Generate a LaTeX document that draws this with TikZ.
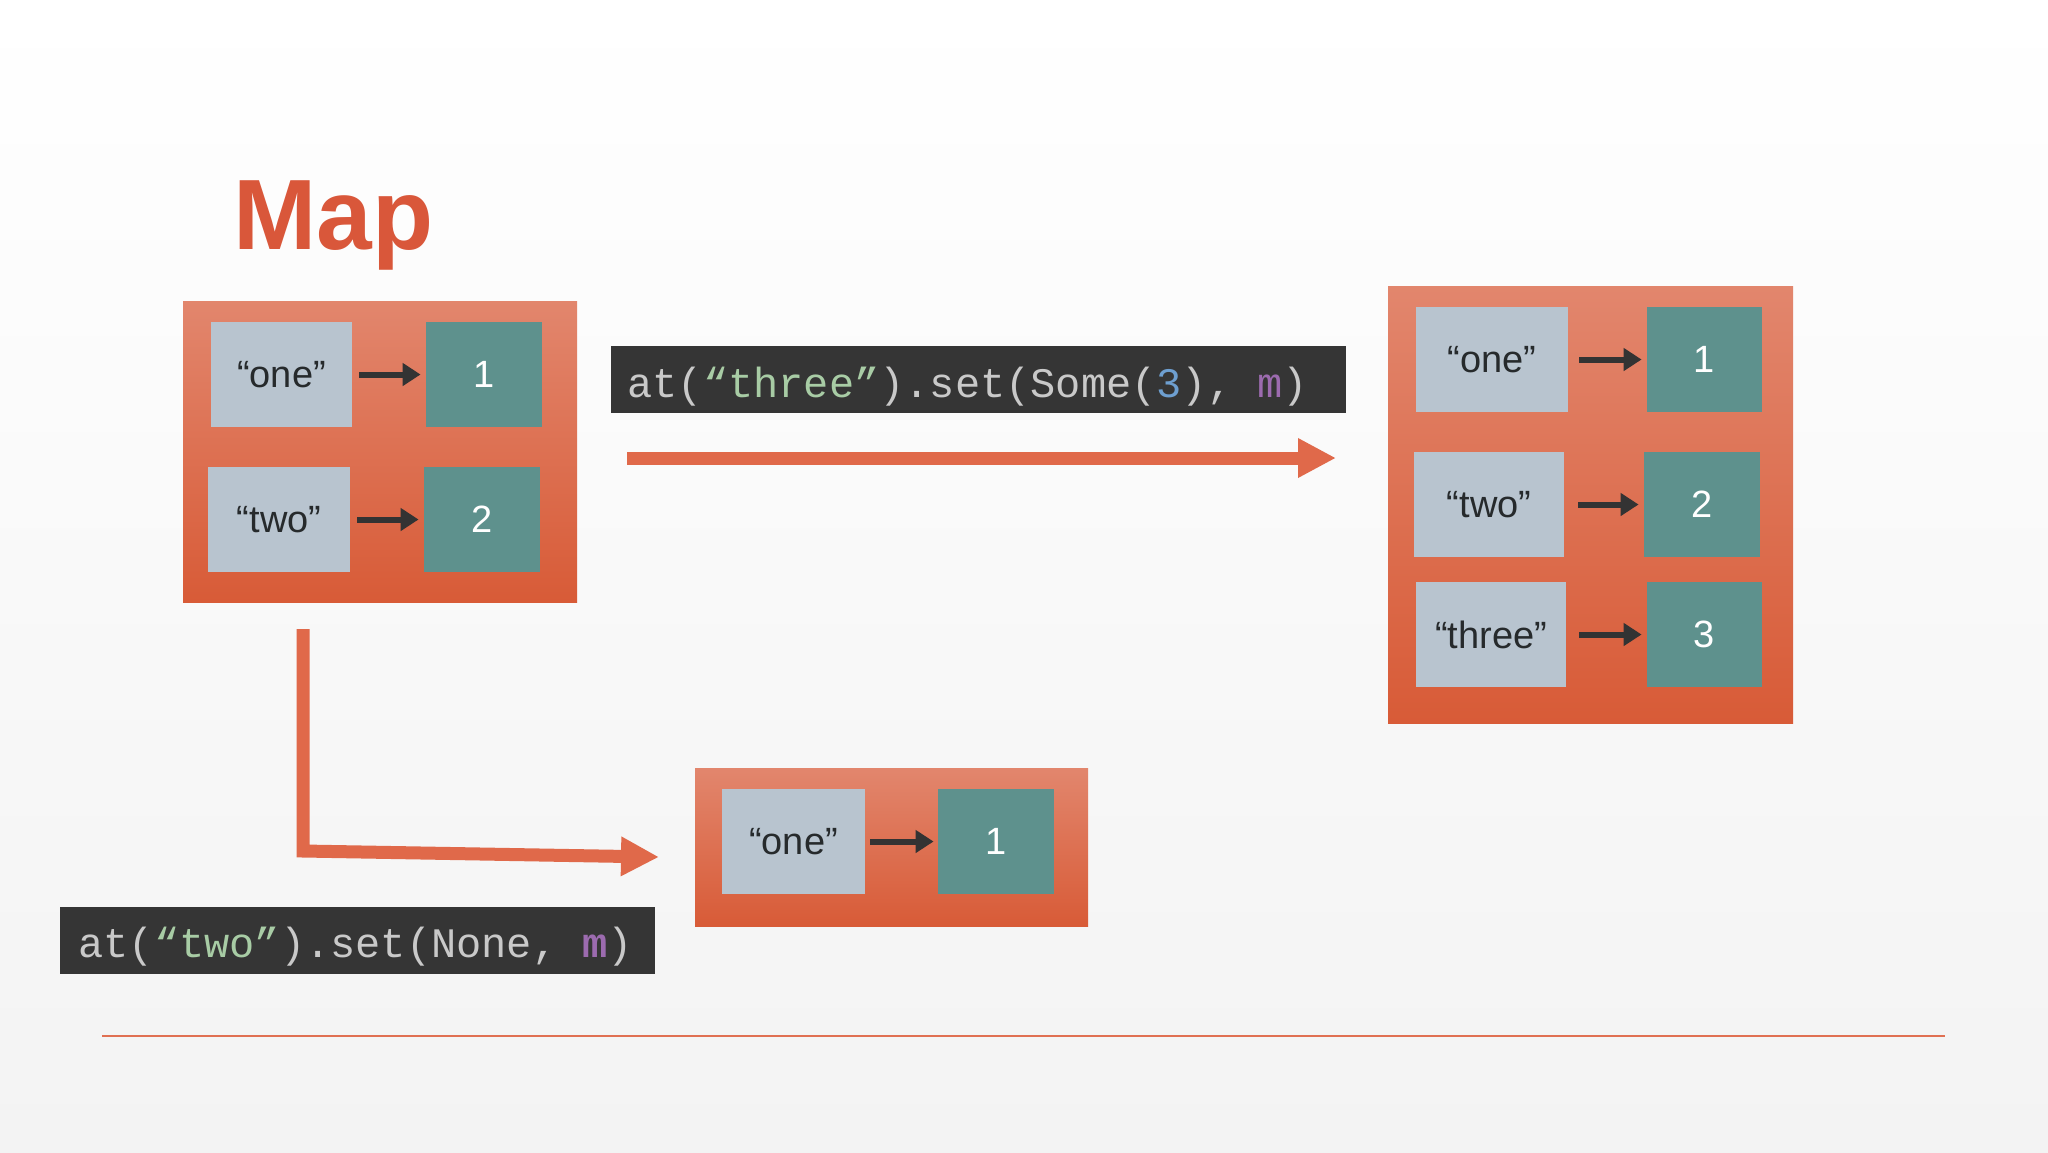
\documentclass[tikz,border=0pt]{standalone}
\usepackage{fontspec}
\setmainfont{Liberation Sans}
\newfontfamily\codefont{Liberation Mono}
\usetikzlibrary{arrows.meta}
\definecolor{bgbot}{HTML}{F3F3F3}
\definecolor{boxtop}{HTML}{E2866D}
\definecolor{boxbot}{HTML}{D85B37}
\definecolor{keyfill}{HTML}{B8C4CF}
\definecolor{valfill}{HTML}{5E918D}
\definecolor{keytext}{HTML}{262A2C}
\definecolor{darkarrow}{HTML}{333333}
\definecolor{orangearrow}{HTML}{E0694A}
\definecolor{titlecol}{HTML}{D9573A}
\definecolor{codebg}{HTML}{353535}
\definecolor{codegray}{HTML}{C9C9C9}
\definecolor{codegreen}{HTML}{A8CCA5}
\definecolor{codeblue}{HTML}{6E9FD0}
\definecolor{codepurple}{HTML}{9C6BAF}
\definecolor{linecol}{HTML}{E07052}
\tikzset{
  mapbox/.style={rectangle, top color=boxtop, bottom color=boxbot, draw=none, inner sep=0pt},
  keybox/.style={rectangle, fill=keyfill, minimum height=52.5pt, inner sep=0pt, text=keytext, font=\fontsize{19pt}{21pt}\selectfont},
  valbox/.style={rectangle, fill=valfill, minimum height=52.5pt, minimum width=58pt, inner sep=0pt, text=white, font=\fontsize{19pt}{21pt}\selectfont},
  kv/.style={-{Triangle[length=9pt,width=11pt]}, line width=3pt, draw=darkarrow},
  bigarrow/.style={-{Triangle[length=19pt,width=18.5pt]}, line width=6.5pt, draw=orangearrow, line join=miter},
  codebox/.style={rectangle, fill=codebg, draw=none, inner sep=0pt, minimum height=33.5pt},
  codetext/.style={anchor=base west, inner sep=0pt, text=codegray, font=\codefont\fontsize{21pt}{24pt}\selectfont}
}
\begin{document}
\begin{tikzpicture}[x=0.5pt,y=-0.5pt]
\useasboundingbox (0,0) rectangle (2048,1152);
\fill[top color=white, bottom color=bgbot] (0,0) rectangle (2048,1152);

% title
\node[anchor=base west, inner sep=0pt, text=titlecol, font=\bfseries\fontsize{50pt}{50pt}\selectfont] (title) at (233,249) {Map};

% left map
\node[mapbox, minimum width=197pt, minimum height=150.5pt] (mapA) at (380,451.5) {};
\node[keybox, minimum width=70.5pt] (a1k) at (281.5,374.5) {“one”};
\node[valbox] (a1v) at (484,374.5) {1};
\node[keybox, minimum width=71pt] (a2k) at (279,519.5) {“two”};
\node[valbox] (a2v) at (482,519.5) {2};
\draw[kv] ([xshift=3.5pt]a1k.east) -- ([xshift=-2.5pt]a1v.west);
\draw[kv] ([xshift=3.5pt]a2k.east) -- ([xshift=-2.5pt]a2v.west);

% right map
\node[mapbox, minimum width=202.5pt, minimum height=218.5pt] (mapB) at (1590.5,504.5) {};
\node[keybox, minimum width=76pt] (b1k) at (1492,359.5) {“one”};
\node[valbox, minimum width=57.5pt] (b1v) at (1704.5,359.5) {1};
\node[keybox, minimum width=75pt] (b2k) at (1489,504.5) {“two”};
\node[valbox] (b2v) at (1702,504.5) {2};
\node[keybox, minimum width=75pt] (b3k) at (1491,634.5) {“three”};
\node[valbox, minimum width=57.5pt] (b3v) at (1704.5,634.5) {3};
\draw[kv] ([xshift=5.5pt]b1k.east) -- ([xshift=-2.5pt]b1v.west);
\draw[kv] ([xshift=7pt]b2k.east) -- ([xshift=-2.5pt]b2v.west);
\draw[kv] ([xshift=6.5pt]b3k.east) -- ([xshift=-2.5pt]b3v.west);

% bottom map
\node[mapbox, minimum width=196.5pt, minimum height=79pt] (mapC) at (891.5,847) {};
\node[keybox, minimum width=71.5pt] (c1k) at (793.5,841.5) {“one”};
\node[valbox] (c1v) at (996,841.5) {1};
\draw[kv] ([xshift=2.5pt]c1k.east) -- ([xshift=-2pt]c1v.west);

% code boxes
\node[codebox, minimum width=367.5pt] (codeA) at (978.5,379.5) {};
\node[codetext] (codeAt) at (627,397) {at(\textcolor{codegreen}{“three”}).set(Some(\textcolor{codeblue}{3}), \textcolor{codepurple}{m})};
\node[codebox, minimum width=297.5pt] (codeB) at (357.5,940) {};
\node[codetext] (codeBt) at (78,957) {at(\textcolor{codegreen}{“two”}).set(None, \textcolor{codepurple}{\bfseries m})};

% big arrows
\coordinate (p1) at (627,458);
\coordinate (p2) at (1336,458);
\draw[bigarrow] (p1) -- (p2);
\coordinate (q1) at (303,629);
\coordinate (q2) at (303,851);
\coordinate (q3) at (659,857);
\draw[bigarrow] (q1) -- (q2) -- (q3);

% bottom rule
\coordinate (r1) at (102,1036);
\coordinate (r2) at (1945,1036);
\draw[linecol, line width=1pt] (r1) -- (r2);
\end{tikzpicture}
\end{document}
